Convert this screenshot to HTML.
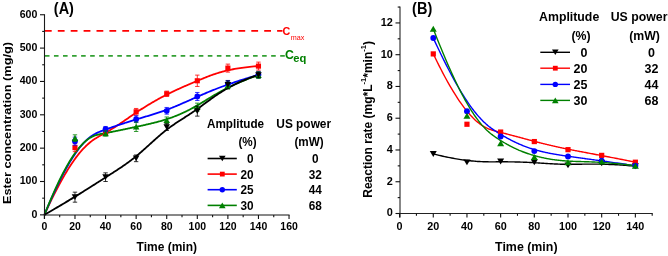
<!DOCTYPE html>
<html><head><meta charset="utf-8"><style>
html,body{margin:0;padding:0;background:#fff;width:668px;height:256px;overflow:hidden;position:relative}
</style></head><body>
<svg width="668" height="256" viewBox="0 0 668 256" style="position:absolute;left:0;top:0;filter:blur(0.35px)">
<rect width="668" height="256" fill="#fff"/>
<line x1="44.9" y1="30.8" x2="282.5" y2="30.8" stroke="#ff0000" stroke-width="1.8" stroke-dasharray="6.8,6.1"/>
<line x1="44.9" y1="55.85" x2="284.8" y2="55.85" stroke="#33a033" stroke-width="1.7" stroke-dasharray="4.6,4.45"/>
<g font-family='"Liberation Sans", sans-serif'>
<text transform="translate(282.40,34.70) scale(1,1.06)" font-weight="bold" font-size="10.8" fill="#ff0000" >C</text>
<text transform="translate(290.80,39.60) scale(1,1.0)" font-size="7.2" fill="#ff0000" >max</text>
<text transform="translate(285.00,59.20) scale(1,1.04)" font-weight="bold" font-size="12.3" fill="#008000" >C</text>
<text transform="translate(293.20,61.60) scale(1,1.0)" font-weight="bold" font-size="11.2" fill="#008000" >eq</text>
</g>
<path d="M44.40,214.85 L46.67,209.92 L48.87,205.22 L51.03,200.73 L53.13,196.45 L55.18,192.38 L57.17,188.51 L59.12,184.82 L61.02,181.33 L62.86,178.02 L64.67,174.89 L66.42,171.92 L68.14,169.12 L69.81,166.48 L71.44,163.99 L73.02,161.65 L74.57,159.45 L76.08,157.39 L77.56,155.46 L78.99,153.65 L80.40,151.96 L81.76,150.38 L83.10,148.91 L84.41,147.54 L85.68,146.27 L86.93,145.08 L88.15,143.99 L89.34,142.96 L90.51,142.01 L91.66,141.13 L92.78,140.31 L93.88,139.54 L94.96,138.83 L96.02,138.16 L97.06,137.52 L98.09,136.92 L99.10,136.34 L100.10,135.79 L101.08,135.24 L102.05,134.71 L103.01,134.18 L103.96,133.66 L104.90,133.12 L105.84,132.59 L106.76,132.05 L107.68,131.52 L108.58,130.98 L109.48,130.44 L110.37,129.89 L111.25,129.35 L112.13,128.81 L113.00,128.26 L113.86,127.71 L114.71,127.17 L115.56,126.62 L116.41,126.07 L117.24,125.52 L118.07,124.98 L118.90,124.43 L119.72,123.88 L120.53,123.33 L121.34,122.78 L122.15,122.24 L122.95,121.69 L123.74,121.14 L124.54,120.60 L125.33,120.05 L126.11,119.51 L126.90,118.97 L127.68,118.43 L128.46,117.89 L129.23,117.36 L130.00,116.82 L130.77,116.29 L131.54,115.76 L132.31,115.23 L133.08,114.71 L133.85,114.18 L134.61,113.66 L135.38,113.15 L136.14,112.63 L136.90,112.12 L137.67,111.61 L138.43,111.11 L139.20,110.61 L139.96,110.11 L140.73,109.61 L141.49,109.12 L142.26,108.63 L143.02,108.14 L143.78,107.66 L144.55,107.18 L145.31,106.70 L146.08,106.23 L146.84,105.76 L147.61,105.29 L148.37,104.83 L149.14,104.37 L149.90,103.91 L150.67,103.45 L151.43,103.00 L152.19,102.55 L152.96,102.11 L153.72,101.67 L154.49,101.23 L155.25,100.79 L156.02,100.36 L156.78,99.93 L157.55,99.50 L158.31,99.08 L159.08,98.66 L159.84,98.24 L160.60,97.82 L161.37,97.41 L162.13,97.01 L162.90,96.60 L163.66,96.20 L164.43,95.80 L165.19,95.40 L165.96,95.01 L166.72,94.62 L167.48,94.24 L168.25,93.85 L169.01,93.47 L169.78,93.10 L170.55,92.72 L171.32,92.35 L172.09,91.98 L172.86,91.61 L173.63,91.24 L174.40,90.87 L175.18,90.51 L175.96,90.15 L176.75,89.78 L177.53,89.42 L178.32,89.06 L179.12,88.70 L179.91,88.34 L180.71,87.98 L181.52,87.62 L182.33,87.27 L183.14,86.91 L183.96,86.55 L184.79,86.18 L185.62,85.82 L186.45,85.46 L187.30,85.10 L188.15,84.73 L189.00,84.36 L189.86,84.00 L190.73,83.63 L191.61,83.25 L192.49,82.88 L193.38,82.50 L194.28,82.12 L195.18,81.74 L196.10,81.36 L197.02,80.97 L197.96,80.58 L198.90,80.18 L199.85,79.78 L200.81,79.38 L201.78,78.98 L202.76,78.57 L203.76,78.16 L204.77,77.75 L205.80,77.33 L206.84,76.92 L207.90,76.50 L208.98,76.09 L210.08,75.68 L211.20,75.26 L212.35,74.85 L213.52,74.45 L214.71,74.04 L215.93,73.64 L217.18,73.24 L218.45,72.85 L219.76,72.46 L221.10,72.07 L222.46,71.70 L223.87,71.32 L225.30,70.96 L226.78,70.60 L228.29,70.25 L229.84,69.91 L231.42,69.57 L233.05,69.25 L234.72,68.94 L236.44,68.63 L238.19,68.34 L240.00,68.06 L241.84,67.79 L243.74,67.53 L245.69,67.28 L247.68,67.05 L249.73,66.83 L251.83,66.63 L253.99,66.44 L256.19,66.27 L258.46,66.11" stroke="#ff0000" stroke-width="1.8" fill="none" stroke-linejoin="round"/>
<path d="M44.40,214.85 L46.67,209.45 L48.87,204.29 L51.03,199.38 L53.13,194.70 L55.18,190.26 L57.17,186.03 L59.12,182.02 L61.02,178.22 L62.86,174.63 L64.67,171.23 L66.42,168.02 L68.14,165.00 L69.81,162.16 L71.44,159.50 L73.02,156.99 L74.57,154.65 L76.08,152.47 L77.56,150.43 L78.99,148.53 L80.40,146.77 L81.76,145.14 L83.10,143.64 L84.41,142.25 L85.68,140.97 L86.93,139.79 L88.15,138.71 L89.34,137.73 L90.51,136.83 L91.66,136.01 L92.78,135.26 L93.88,134.58 L94.96,133.97 L96.02,133.40 L97.06,132.89 L98.09,132.42 L99.10,131.98 L100.10,131.58 L101.08,131.19 L102.05,130.83 L103.01,130.47 L103.96,130.13 L104.90,129.78 L105.84,129.45 L106.76,129.11 L107.68,128.78 L108.58,128.46 L109.48,128.14 L110.37,127.82 L111.25,127.51 L112.13,127.21 L113.00,126.90 L113.86,126.60 L114.71,126.31 L115.56,126.02 L116.41,125.73 L117.24,125.44 L118.07,125.16 L118.90,124.89 L119.72,124.61 L120.53,124.34 L121.34,124.07 L122.15,123.81 L122.95,123.54 L123.74,123.28 L124.54,123.03 L125.33,122.77 L126.11,122.52 L126.90,122.27 L127.68,122.02 L128.46,121.77 L129.23,121.53 L130.00,121.29 L130.77,121.05 L131.54,120.81 L132.31,120.57 L133.08,120.34 L133.85,120.11 L134.61,119.87 L135.38,119.64 L136.14,119.41 L136.90,119.18 L137.67,118.96 L138.43,118.73 L139.20,118.50 L139.96,118.28 L140.73,118.05 L141.49,117.83 L142.26,117.60 L143.02,117.38 L143.78,117.15 L144.55,116.93 L145.31,116.70 L146.08,116.48 L146.84,116.25 L147.61,116.02 L148.37,115.80 L149.14,115.57 L149.90,115.34 L150.67,115.11 L151.43,114.88 L152.19,114.64 L152.96,114.41 L153.72,114.17 L154.49,113.93 L155.25,113.69 L156.02,113.45 L156.78,113.21 L157.55,112.96 L158.31,112.72 L159.08,112.46 L159.84,112.21 L160.60,111.96 L161.37,111.70 L162.13,111.44 L162.90,111.17 L163.66,110.90 L164.43,110.63 L165.19,110.36 L165.96,110.08 L166.72,109.80 L167.48,109.51 L168.25,109.22 L169.01,108.93 L169.78,108.63 L170.55,108.33 L171.32,108.03 L172.09,107.72 L172.86,107.41 L173.63,107.10 L174.40,106.78 L175.18,106.46 L175.96,106.13 L176.75,105.80 L177.53,105.47 L178.32,105.14 L179.12,104.80 L179.91,104.45 L180.71,104.11 L181.52,103.76 L182.33,103.41 L183.14,103.05 L183.96,102.69 L184.79,102.33 L185.62,101.96 L186.45,101.59 L187.30,101.22 L188.15,100.84 L189.00,100.47 L189.86,100.08 L190.73,99.70 L191.61,99.31 L192.49,98.92 L193.38,98.52 L194.28,98.13 L195.18,97.73 L196.10,97.32 L197.02,96.92 L197.96,96.51 L198.90,96.09 L199.85,95.68 L200.81,95.26 L201.78,94.84 L202.76,94.41 L203.76,93.99 L204.77,93.55 L205.80,93.12 L206.84,92.68 L207.90,92.24 L208.98,91.79 L210.08,91.34 L211.20,90.88 L212.35,90.42 L213.52,89.95 L214.71,89.48 L215.93,89.00 L217.18,88.51 L218.45,88.03 L219.76,87.53 L221.10,87.03 L222.46,86.52 L223.87,86.01 L225.30,85.49 L226.78,84.96 L228.29,84.43 L229.84,83.88 L231.42,83.34 L233.05,82.78 L234.72,82.21 L236.44,81.64 L238.19,81.06 L240.00,80.47 L241.84,79.88 L243.74,79.27 L245.69,78.66 L247.68,78.04 L249.73,77.40 L251.83,76.76 L253.99,76.11 L256.19,75.45 L258.46,74.78" stroke="#0000ff" stroke-width="1.8" fill="none" stroke-linejoin="round"/>
<path d="M44.40,214.85 L46.67,209.24 L48.87,203.89 L51.03,198.82 L53.13,194.00 L55.18,189.43 L57.17,185.10 L59.12,181.01 L61.02,177.16 L62.86,173.52 L64.67,170.10 L66.42,166.90 L68.14,163.89 L69.81,161.08 L71.44,158.45 L73.02,156.01 L74.57,153.75 L76.08,151.65 L77.56,149.71 L78.99,147.92 L80.40,146.28 L81.76,144.78 L83.10,143.41 L84.41,142.17 L85.68,141.05 L86.93,140.04 L88.15,139.13 L89.34,138.32 L90.51,137.60 L91.66,136.97 L92.78,136.41 L93.88,135.92 L94.96,135.50 L96.02,135.13 L97.06,134.81 L98.09,134.53 L99.10,134.29 L100.10,134.08 L101.08,133.88 L102.05,133.70 L103.01,133.53 L103.96,133.36 L104.90,133.19 L105.84,133.02 L106.76,132.85 L107.68,132.68 L108.58,132.51 L109.48,132.34 L110.37,132.17 L111.25,132.00 L112.13,131.83 L113.00,131.66 L113.86,131.49 L114.71,131.33 L115.56,131.16 L116.41,130.99 L117.24,130.82 L118.07,130.65 L118.90,130.49 L119.72,130.32 L120.53,130.15 L121.34,129.98 L122.15,129.82 L122.95,129.65 L123.74,129.48 L124.54,129.32 L125.33,129.15 L126.11,128.98 L126.90,128.82 L127.68,128.65 L128.46,128.49 L129.23,128.32 L130.00,128.15 L130.77,127.99 L131.54,127.82 L132.31,127.66 L133.08,127.49 L133.85,127.33 L134.61,127.16 L135.38,127.00 L136.14,126.83 L136.90,126.67 L137.67,126.50 L138.43,126.34 L139.20,126.17 L139.96,126.01 L140.73,125.84 L141.49,125.68 L142.26,125.51 L143.02,125.34 L143.78,125.17 L144.55,125.01 L145.31,124.83 L146.08,124.66 L146.84,124.49 L147.61,124.32 L148.37,124.14 L149.14,123.96 L149.90,123.78 L150.67,123.60 L151.43,123.42 L152.19,123.23 L152.96,123.05 L153.72,122.86 L154.49,122.67 L155.25,122.47 L156.02,122.27 L156.78,122.08 L157.55,121.87 L158.31,121.67 L159.08,121.46 L159.84,121.25 L160.60,121.03 L161.37,120.82 L162.13,120.60 L162.90,120.37 L163.66,120.14 L164.43,119.91 L165.19,119.67 L165.96,119.43 L166.72,119.19 L167.48,118.94 L168.25,118.69 L169.01,118.43 L169.78,118.17 L170.55,117.91 L171.32,117.63 L172.09,117.36 L172.86,117.07 L173.63,116.78 L174.40,116.49 L175.18,116.19 L175.96,115.88 L176.75,115.57 L177.53,115.25 L178.32,114.92 L179.12,114.59 L179.91,114.25 L180.71,113.90 L181.52,113.54 L182.33,113.17 L183.14,112.80 L183.96,112.42 L184.79,112.03 L185.62,111.63 L186.45,111.22 L187.30,110.81 L188.15,110.38 L189.00,109.95 L189.86,109.50 L190.73,109.05 L191.61,108.58 L192.49,108.10 L193.38,107.62 L194.28,107.12 L195.18,106.61 L196.10,106.10 L197.02,105.57 L197.96,105.02 L198.90,104.47 L199.85,103.91 L200.81,103.33 L201.78,102.74 L202.76,102.14 L203.76,101.53 L204.77,100.91 L205.80,100.27 L206.84,99.63 L207.90,98.98 L208.98,98.32 L210.08,97.65 L211.20,96.97 L212.35,96.28 L213.52,95.59 L214.71,94.88 L215.93,94.18 L217.18,93.46 L218.45,92.74 L219.76,92.01 L221.10,91.27 L222.46,90.53 L223.87,89.79 L225.30,89.04 L226.78,88.28 L228.29,87.52 L229.84,86.76 L231.42,85.99 L233.05,85.22 L234.72,84.45 L236.44,83.68 L238.19,82.90 L240.00,82.13 L241.84,81.35 L243.74,80.57 L245.69,79.79 L247.68,79.01 L249.73,78.23 L251.83,77.45 L253.99,76.67 L256.19,75.89 L258.46,75.11" stroke="#008000" stroke-width="1.8" fill="none" stroke-linejoin="round"/>
<path d="M44.40,214.85 L46.67,213.54 L48.87,212.26 L51.03,211.00 L53.13,209.77 L55.18,208.57 L57.17,207.39 L59.12,206.24 L61.02,205.12 L62.86,204.02 L64.67,202.94 L66.42,201.89 L68.14,200.86 L69.81,199.85 L71.44,198.86 L73.02,197.89 L74.57,196.95 L76.08,196.02 L77.56,195.12 L78.99,194.23 L80.40,193.36 L81.76,192.51 L83.10,191.68 L84.41,190.86 L85.68,190.06 L86.93,189.28 L88.15,188.51 L89.34,187.76 L90.51,187.01 L91.66,186.29 L92.78,185.57 L93.88,184.87 L94.96,184.18 L96.02,183.50 L97.06,182.84 L98.09,182.18 L99.10,181.53 L100.10,180.89 L101.08,180.26 L102.05,179.64 L103.01,179.03 L103.96,178.42 L104.90,177.82 L105.84,177.22 L106.76,176.64 L107.68,176.05 L108.58,175.47 L109.48,174.90 L110.37,174.33 L111.25,173.77 L112.13,173.21 L113.00,172.65 L113.86,172.09 L114.71,171.54 L115.56,170.99 L116.41,170.44 L117.24,169.90 L118.07,169.35 L118.90,168.81 L119.72,168.26 L120.53,167.72 L121.34,167.17 L122.15,166.63 L122.95,166.08 L123.74,165.53 L124.54,164.98 L125.33,164.43 L126.11,163.88 L126.90,163.32 L127.68,162.76 L128.46,162.19 L129.23,161.63 L130.00,161.05 L130.77,160.47 L131.54,159.89 L132.31,159.30 L133.08,158.71 L133.85,158.11 L134.61,157.50 L135.38,156.89 L136.14,156.27 L136.90,155.64 L137.67,155.00 L138.43,154.36 L139.20,153.71 L139.96,153.05 L140.73,152.39 L141.49,151.72 L142.26,151.05 L143.02,150.38 L143.78,149.70 L144.55,149.02 L145.31,148.33 L146.08,147.64 L146.84,146.95 L147.61,146.26 L148.37,145.57 L149.14,144.87 L149.90,144.18 L150.67,143.48 L151.43,142.79 L152.19,142.10 L152.96,141.40 L153.72,140.71 L154.49,140.03 L155.25,139.34 L156.02,138.66 L156.78,137.98 L157.55,137.31 L158.31,136.64 L159.08,135.97 L159.84,135.31 L160.60,134.65 L161.37,134.01 L162.13,133.36 L162.90,132.73 L163.66,132.10 L164.43,131.48 L165.19,130.87 L165.96,130.26 L166.72,129.67 L167.48,129.08 L168.25,128.51 L169.01,127.94 L169.78,127.38 L170.55,126.83 L171.32,126.28 L172.09,125.74 L172.86,125.20 L173.63,124.67 L174.40,124.14 L175.18,123.62 L175.96,123.10 L176.75,122.58 L177.53,122.06 L178.32,121.55 L179.12,121.03 L179.91,120.52 L180.71,120.00 L181.52,119.48 L182.33,118.96 L183.14,118.44 L183.96,117.91 L184.79,117.38 L185.62,116.85 L186.45,116.31 L187.30,115.77 L188.15,115.22 L189.00,114.66 L189.86,114.09 L190.73,113.52 L191.61,112.94 L192.49,112.35 L193.38,111.75 L194.28,111.13 L195.18,110.51 L196.10,109.88 L197.02,109.23 L197.96,108.57 L198.90,107.90 L199.85,107.21 L200.81,106.51 L201.78,105.80 L202.76,105.07 L203.76,104.33 L204.77,103.57 L205.80,102.81 L206.84,102.03 L207.90,101.25 L208.98,100.45 L210.08,99.65 L211.20,98.84 L212.35,98.02 L213.52,97.20 L214.71,96.37 L215.93,95.53 L217.18,94.69 L218.45,93.85 L219.76,93.00 L221.10,92.15 L222.46,91.30 L223.87,90.45 L225.30,89.59 L226.78,88.74 L228.29,87.89 L229.84,87.04 L231.42,86.19 L233.05,85.35 L234.72,84.51 L236.44,83.67 L238.19,82.84 L240.00,82.01 L241.84,81.19 L243.74,80.38 L245.69,79.57 L247.68,78.78 L249.73,77.99 L251.83,77.21 L253.99,76.45 L256.19,75.69 L258.46,74.95" stroke="#000" stroke-width="1.8" fill="none" stroke-linejoin="round"/>
<path d="M74.98,143.65 L74.98,151.65 M72.78,143.65 L77.18,143.65 M72.78,151.65 L77.18,151.65" stroke="#ff0000" stroke-width="0.8" fill="none"/>
<rect x="72.42" y="145.09" width="5.12" height="5.12" fill="#ff0000"/>
<path d="M105.56,129.81 L105.56,135.14 M103.36,129.81 L107.76,129.81 M103.36,135.14 L107.76,135.14" stroke="#ff0000" stroke-width="0.8" fill="none"/>
<rect x="103.00" y="129.92" width="5.12" height="5.12" fill="#ff0000"/>
<path d="M136.14,108.46 L136.14,115.13 M133.94,108.46 L138.34,108.46 M133.94,115.13 L138.34,115.13" stroke="#ff0000" stroke-width="0.8" fill="none"/>
<rect x="133.58" y="109.24" width="5.12" height="5.12" fill="#ff0000"/>
<path d="M166.72,91.12 L166.72,96.46 M164.52,91.12 L168.92,91.12 M164.52,96.46 L168.92,96.46" stroke="#ff0000" stroke-width="0.8" fill="none"/>
<rect x="164.16" y="91.23" width="5.12" height="5.12" fill="#ff0000"/>
<path d="M197.30,75.11 L197.30,86.45 M195.10,75.11 L199.50,75.11 M195.10,86.45 L199.50,86.45" stroke="#ff0000" stroke-width="0.8" fill="none"/>
<rect x="194.74" y="78.22" width="5.12" height="5.12" fill="#ff0000"/>
<path d="M227.88,64.11 L227.88,72.11 M225.68,64.11 L230.08,64.11 M225.68,72.11 L230.08,72.11" stroke="#ff0000" stroke-width="0.8" fill="none"/>
<rect x="225.32" y="65.55" width="5.12" height="5.12" fill="#ff0000"/>
<path d="M258.46,62.11 L258.46,70.11 M256.26,62.11 L260.66,62.11 M256.26,70.11 L260.66,70.11" stroke="#ff0000" stroke-width="0.8" fill="none"/>
<rect x="255.90" y="63.55" width="5.12" height="5.12" fill="#ff0000"/>
<path d="M74.98,137.14 L74.98,145.15 M72.78,137.14 L77.18,137.14 M72.78,145.15 L77.18,145.15" stroke="#0000ff" stroke-width="0.8" fill="none"/>
<circle cx="74.98" cy="141.15" r="2.88" fill="#0000ff"/>
<path d="M105.56,126.47 L105.56,131.81 M103.36,126.47 L107.76,126.47 M103.36,131.81 L107.76,131.81" stroke="#0000ff" stroke-width="0.8" fill="none"/>
<circle cx="105.56" cy="129.14" r="2.88" fill="#0000ff"/>
<path d="M136.14,115.80 L136.14,122.47 M133.94,115.80 L138.34,115.80 M133.94,122.47 L138.34,122.47" stroke="#0000ff" stroke-width="0.8" fill="none"/>
<circle cx="136.14" cy="119.14" r="2.88" fill="#0000ff"/>
<path d="M166.72,107.46 L166.72,114.13 M164.52,107.46 L168.92,107.46 M164.52,114.13 L168.92,114.13" stroke="#0000ff" stroke-width="0.8" fill="none"/>
<circle cx="166.72" cy="110.80" r="2.88" fill="#0000ff"/>
<path d="M197.30,92.46 L197.30,100.46 M195.10,92.46 L199.50,92.46 M195.10,100.46 L199.50,100.46" stroke="#0000ff" stroke-width="0.8" fill="none"/>
<circle cx="197.30" cy="96.46" r="2.88" fill="#0000ff"/>
<path d="M227.88,80.45 L227.88,87.12 M225.68,80.45 L230.08,80.45 M225.68,87.12 L230.08,87.12" stroke="#0000ff" stroke-width="0.8" fill="none"/>
<circle cx="227.88" cy="83.78" r="2.88" fill="#0000ff"/>
<path d="M258.46,71.44 L258.46,78.11 M256.26,71.44 L260.66,71.44 M256.26,78.11 L260.66,78.11" stroke="#0000ff" stroke-width="0.8" fill="none"/>
<circle cx="258.46" cy="74.78" r="2.88" fill="#0000ff"/>
<path d="M74.98,134.81 L74.98,141.48 M72.78,134.81 L77.18,134.81 M72.78,141.48 L77.18,141.48" stroke="#008000" stroke-width="0.8" fill="none"/>
<path d="M71.68,140.95 L78.28,140.95 L74.98,135.34 Z" fill="#008000"/>
<path d="M105.56,130.81 L105.56,136.14 M103.36,130.81 L107.76,130.81 M103.36,136.14 L107.76,136.14" stroke="#008000" stroke-width="0.8" fill="none"/>
<path d="M102.26,136.28 L108.86,136.28 L105.56,130.67 Z" fill="#008000"/>
<path d="M136.14,122.14 L136.14,131.47 M133.94,122.14 L138.34,122.14 M133.94,131.47 L138.34,131.47" stroke="#008000" stroke-width="0.8" fill="none"/>
<path d="M132.84,129.61 L139.44,129.61 L136.14,124.00 Z" fill="#008000"/>
<path d="M166.72,116.97 L166.72,123.64 M164.52,116.97 L168.92,116.97 M164.52,123.64 L168.92,123.64" stroke="#008000" stroke-width="0.8" fill="none"/>
<path d="M163.42,123.11 L170.02,123.11 L166.72,117.50 Z" fill="#008000"/>
<path d="M197.30,103.13 L197.30,111.13 M195.10,103.13 L199.50,103.13 M195.10,111.13 L199.50,111.13" stroke="#008000" stroke-width="0.8" fill="none"/>
<path d="M194.00,109.93 L200.60,109.93 L197.30,104.32 Z" fill="#008000"/>
<path d="M227.88,82.12 L227.88,88.79 M225.68,82.12 L230.08,82.12 M225.68,88.79 L230.08,88.79" stroke="#008000" stroke-width="0.8" fill="none"/>
<path d="M224.58,88.26 L231.18,88.26 L227.88,82.65 Z" fill="#008000"/>
<path d="M258.46,71.78 L258.46,78.45 M256.26,71.78 L260.66,71.78 M256.26,78.45 L260.66,78.45" stroke="#008000" stroke-width="0.8" fill="none"/>
<path d="M255.16,77.92 L261.76,77.92 L258.46,72.31 Z" fill="#008000"/>
<path d="M74.98,192.17 L74.98,202.18 M72.78,192.17 L77.18,192.17 M72.78,202.18 L77.18,202.18" stroke="#000" stroke-width="0.8" fill="none"/>
<path d="M71.68,194.37 L78.28,194.37 L74.98,199.98 Z" fill="#000"/>
<path d="M105.56,172.83 L105.56,181.50 M103.36,172.83 L107.76,172.83 M103.36,181.50 L107.76,181.50" stroke="#000" stroke-width="0.8" fill="none"/>
<path d="M102.26,174.36 L108.86,174.36 L105.56,179.97 Z" fill="#000"/>
<path d="M136.14,154.99 L136.14,161.66 M133.94,154.99 L138.34,154.99 M133.94,161.66 L138.34,161.66" stroke="#000" stroke-width="0.8" fill="none"/>
<path d="M132.84,155.52 L139.44,155.52 L136.14,161.13 Z" fill="#000"/>
<path d="M166.72,123.80 L166.72,130.47 M164.52,123.80 L168.92,123.80 M164.52,130.47 L168.92,130.47" stroke="#000" stroke-width="0.8" fill="none"/>
<path d="M163.42,124.33 L170.02,124.33 L166.72,129.94 Z" fill="#000"/>
<path d="M197.30,106.13 L197.30,116.13 M195.10,106.13 L199.50,106.13 M195.10,116.13 L199.50,116.13" stroke="#000" stroke-width="0.8" fill="none"/>
<path d="M194.00,108.33 L200.60,108.33 L197.30,113.94 Z" fill="#000"/>
<path d="M227.88,80.78 L227.88,88.79 M225.68,80.78 L230.08,80.78 M225.68,88.79 L230.08,88.79" stroke="#000" stroke-width="0.8" fill="none"/>
<path d="M224.58,81.98 L231.18,81.98 L227.88,87.59 Z" fill="#000"/>
<path d="M258.46,72.28 L258.46,77.61 M256.26,72.28 L260.66,72.28 M256.26,77.61 L260.66,77.61" stroke="#000" stroke-width="0.8" fill="none"/>
<path d="M255.16,72.14 L261.76,72.14 L258.46,77.75 Z" fill="#000"/>
<line x1="44.5" y1="14.25" x2="44.5" y2="219.00" stroke="#1a1a1a" stroke-width="1.1"/>
<line x1="44.5" y1="215.0" x2="289.54" y2="215.0" stroke="#111" stroke-width="1"/>
<g stroke="#111" stroke-width="1.1" fill="none">
<line x1="40.00" y1="214.85" x2="44.50" y2="214.85"/>
<line x1="42.20" y1="198.17" x2="44.50" y2="198.17"/>
<line x1="40.00" y1="181.50" x2="44.50" y2="181.50"/>
<line x1="42.20" y1="164.82" x2="44.50" y2="164.82"/>
<line x1="40.00" y1="148.15" x2="44.50" y2="148.15"/>
<line x1="42.20" y1="131.47" x2="44.50" y2="131.47"/>
<line x1="40.00" y1="114.80" x2="44.50" y2="114.80"/>
<line x1="42.20" y1="98.12" x2="44.50" y2="98.12"/>
<line x1="40.00" y1="81.45" x2="44.50" y2="81.45"/>
<line x1="42.20" y1="64.77" x2="44.50" y2="64.77"/>
<line x1="40.00" y1="48.10" x2="44.50" y2="48.10"/>
<line x1="42.20" y1="31.42" x2="44.50" y2="31.42"/>
<line x1="40.00" y1="14.75" x2="44.50" y2="14.75"/>
<line x1="44.40" y1="215.00" x2="44.40" y2="219.00"/>
<line x1="59.69" y1="215.00" x2="59.69" y2="217.30"/>
<line x1="74.98" y1="215.00" x2="74.98" y2="219.00"/>
<line x1="90.27" y1="215.00" x2="90.27" y2="217.30"/>
<line x1="105.56" y1="215.00" x2="105.56" y2="219.00"/>
<line x1="120.85" y1="215.00" x2="120.85" y2="217.30"/>
<line x1="136.14" y1="215.00" x2="136.14" y2="219.00"/>
<line x1="151.43" y1="215.00" x2="151.43" y2="217.30"/>
<line x1="166.72" y1="215.00" x2="166.72" y2="219.00"/>
<line x1="182.01" y1="215.00" x2="182.01" y2="217.30"/>
<line x1="197.30" y1="215.00" x2="197.30" y2="219.00"/>
<line x1="212.59" y1="215.00" x2="212.59" y2="217.30"/>
<line x1="227.88" y1="215.00" x2="227.88" y2="219.00"/>
<line x1="243.17" y1="215.00" x2="243.17" y2="217.30"/>
<line x1="258.46" y1="215.00" x2="258.46" y2="219.00"/>
<line x1="273.75" y1="215.00" x2="273.75" y2="217.30"/>
<line x1="289.04" y1="215.00" x2="289.04" y2="219.00"/>
</g>
<g font-family='"Liberation Sans", sans-serif'>
<text transform="translate(37.30,217.65) scale(1,1.06)" text-anchor="end" font-weight="bold" font-size="10.6" fill="#000" >0</text>
<text transform="translate(37.30,184.30) scale(1,1.06)" text-anchor="end" font-weight="bold" font-size="10.6" fill="#000" >100</text>
<text transform="translate(37.30,150.95) scale(1,1.06)" text-anchor="end" font-weight="bold" font-size="10.6" fill="#000" >200</text>
<text transform="translate(37.30,117.60) scale(1,1.06)" text-anchor="end" font-weight="bold" font-size="10.6" fill="#000" >300</text>
<text transform="translate(37.30,84.25) scale(1,1.06)" text-anchor="end" font-weight="bold" font-size="10.6" fill="#000" >400</text>
<text transform="translate(37.30,50.90) scale(1,1.06)" text-anchor="end" font-weight="bold" font-size="10.6" fill="#000" >500</text>
<text transform="translate(37.30,17.55) scale(1,1.06)" text-anchor="end" font-weight="bold" font-size="10.6" fill="#000" >600</text>
<text transform="translate(44.40,229.70) scale(1,1.06)" text-anchor="middle" font-weight="bold" font-size="10.5" fill="#000" >0</text>
<text transform="translate(74.98,229.70) scale(1,1.06)" text-anchor="middle" font-weight="bold" font-size="10.5" fill="#000" >20</text>
<text transform="translate(105.56,229.70) scale(1,1.06)" text-anchor="middle" font-weight="bold" font-size="10.5" fill="#000" >40</text>
<text transform="translate(136.14,229.70) scale(1,1.06)" text-anchor="middle" font-weight="bold" font-size="10.5" fill="#000" >60</text>
<text transform="translate(166.72,229.70) scale(1,1.06)" text-anchor="middle" font-weight="bold" font-size="10.5" fill="#000" >80</text>
<text transform="translate(197.30,229.70) scale(1,1.06)" text-anchor="middle" font-weight="bold" font-size="10.5" fill="#000" >100</text>
<text transform="translate(227.88,229.70) scale(1,1.06)" text-anchor="middle" font-weight="bold" font-size="10.5" fill="#000" >120</text>
<text transform="translate(258.46,229.70) scale(1,1.06)" text-anchor="middle" font-weight="bold" font-size="10.5" fill="#000" >140</text>
<text transform="translate(289.04,229.70) scale(1,1.06)" text-anchor="middle" font-weight="bold" font-size="10.5" fill="#000" >160</text>
<text transform="translate(166.80,251.30) scale(1,1.03)" text-anchor="middle" font-weight="bold" font-size="12" fill="#000" >Time (min)</text>
<text transform="translate(11.0,123.0) rotate(-90) scale(1.08,1)" text-anchor="middle" font-weight="bold" font-size="11.8">Ester concentration (mg/g)</text>
<text transform="translate(53.80,13.60) scale(1,1.09)" font-weight="bold" font-size="14.5" fill="#000" >(A)</text>
</g>
<g font-family='"Liberation Sans", sans-serif'>
<text transform="translate(207.00,127.70) scale(1,1.03)" font-weight="bold" font-size="11.7" fill="#000" >Amplitude</text>
<text transform="translate(276.30,127.70) scale(1,1.03)" font-weight="bold" font-size="11.9" fill="#000" >US power</text>
<text transform="translate(247.50,146.00) scale(1,1.03)" text-anchor="middle" font-weight="bold" font-size="11.7" fill="#000" >(%)</text>
<text transform="translate(309.00,146.00) scale(1,1.03)" text-anchor="middle" font-weight="bold" font-size="11.7" fill="#000" >(mW)</text>
<line x1="207.6" y1="158.5" x2="236.8" y2="158.5" stroke="#000" stroke-width="1.6"/>
<path d="M219.00,155.69 L225.60,155.69 L222.30,161.31 Z" fill="#000"/>
<text transform="translate(253.60,163.00) scale(1,1.05)" text-anchor="end" font-weight="bold" font-size="11.8" fill="#000" >0</text>
<text transform="translate(315.30,163.00) scale(1,1.05)" text-anchor="middle" font-weight="bold" font-size="11.8" fill="#000" >0</text>
<line x1="207.6" y1="174.1" x2="236.8" y2="174.1" stroke="#ff0000" stroke-width="1.6"/>
<rect x="219.90" y="171.70" width="4.80" height="4.80" fill="#ff0000"/>
<text transform="translate(253.60,178.60) scale(1,1.05)" text-anchor="end" font-weight="bold" font-size="11.8" fill="#000" >20</text>
<text transform="translate(315.30,178.60) scale(1,1.05)" text-anchor="middle" font-weight="bold" font-size="11.8" fill="#000" >32</text>
<line x1="207.6" y1="189.7" x2="236.8" y2="189.7" stroke="#0000ff" stroke-width="1.6"/>
<circle cx="222.30" cy="189.70" r="2.70" fill="#0000ff"/>
<text transform="translate(253.60,194.20) scale(1,1.05)" text-anchor="end" font-weight="bold" font-size="11.8" fill="#000" >25</text>
<text transform="translate(315.30,194.20) scale(1,1.05)" text-anchor="middle" font-weight="bold" font-size="11.8" fill="#000" >44</text>
<line x1="207.6" y1="205.4" x2="236.8" y2="205.4" stroke="#008000" stroke-width="1.6"/>
<path d="M219.00,208.21 L225.60,208.21 L222.30,202.59 Z" fill="#008000"/>
<text transform="translate(253.60,209.90) scale(1,1.05)" text-anchor="end" font-weight="bold" font-size="11.8" fill="#000" >30</text>
<text transform="translate(315.30,209.90) scale(1,1.05)" text-anchor="middle" font-weight="bold" font-size="11.8" fill="#000" >68</text>
</g>
<path d="M433.28,153.95 L435.28,154.44 L437.24,154.92 L439.16,155.37 L441.05,155.80 L442.89,156.22 L444.70,156.61 L446.47,156.99 L448.21,157.34 L449.91,157.68 L451.58,158.01 L453.21,158.31 L454.81,158.60 L456.38,158.87 L457.92,159.13 L459.42,159.37 L460.90,159.60 L462.35,159.82 L463.76,160.02 L465.15,160.20 L466.51,160.38 L467.84,160.54 L469.15,160.69 L470.43,160.82 L471.69,160.95 L472.92,161.07 L474.13,161.17 L475.32,161.27 L476.48,161.35 L477.63,161.43 L478.75,161.50 L479.85,161.56 L480.93,161.62 L481.99,161.66 L483.04,161.70 L484.07,161.74 L485.08,161.77 L486.07,161.79 L487.05,161.81 L488.01,161.82 L488.96,161.83 L489.90,161.84 L490.82,161.84 L491.74,161.84 L492.64,161.84 L493.53,161.84 L494.40,161.83 L495.27,161.83 L496.13,161.82 L496.99,161.82 L497.83,161.81 L498.67,161.81 L499.50,161.80 L500.33,161.80 L501.15,161.80 L501.96,161.80 L502.77,161.80 L503.57,161.80 L504.37,161.80 L505.15,161.81 L505.94,161.81 L506.72,161.82 L507.49,161.82 L508.26,161.83 L509.02,161.84 L509.78,161.84 L510.54,161.85 L511.28,161.87 L512.03,161.88 L512.77,161.89 L513.51,161.90 L514.24,161.92 L514.97,161.93 L515.69,161.95 L516.41,161.96 L517.13,161.98 L517.84,162.00 L518.55,162.02 L519.26,162.04 L519.97,162.06 L520.67,162.09 L521.37,162.11 L522.06,162.13 L522.76,162.16 L523.45,162.18 L524.14,162.21 L524.83,162.24 L525.51,162.27 L526.20,162.29 L526.88,162.32 L527.56,162.36 L528.24,162.39 L528.92,162.42 L529.60,162.45 L530.27,162.49 L530.95,162.52 L531.62,162.56 L532.30,162.60 L532.97,162.63 L533.65,162.67 L534.32,162.71 L534.99,162.75 L535.67,162.79 L536.34,162.83 L537.02,162.88 L537.69,162.92 L538.37,162.96 L539.04,163.00 L539.72,163.05 L540.40,163.09 L541.08,163.14 L541.76,163.18 L542.44,163.23 L543.13,163.27 L543.81,163.32 L544.50,163.36 L545.19,163.41 L545.88,163.45 L546.58,163.49 L547.27,163.54 L547.97,163.58 L548.67,163.62 L549.38,163.66 L550.09,163.71 L550.80,163.75 L551.51,163.79 L552.23,163.82 L552.95,163.86 L553.67,163.90 L554.40,163.94 L555.13,163.97 L555.87,164.00 L556.61,164.04 L557.36,164.07 L558.10,164.10 L558.86,164.12 L559.62,164.15 L560.38,164.18 L561.15,164.20 L561.92,164.22 L562.70,164.24 L563.49,164.26 L564.27,164.27 L565.07,164.29 L565.87,164.30 L566.68,164.31 L567.49,164.32 L568.31,164.32 L569.14,164.33 L569.97,164.33 L570.81,164.32 L571.65,164.32 L572.51,164.31 L573.37,164.31 L574.24,164.29 L575.11,164.28 L576.00,164.27 L576.90,164.25 L577.82,164.24 L578.74,164.22 L579.68,164.21 L580.63,164.19 L581.59,164.18 L582.57,164.16 L583.56,164.15 L584.57,164.13 L585.60,164.12 L586.65,164.11 L587.71,164.10 L588.79,164.09 L589.89,164.09 L591.01,164.08 L592.16,164.08 L593.32,164.08 L594.51,164.09 L595.72,164.10 L596.95,164.11 L598.21,164.13 L599.49,164.15 L600.80,164.18 L602.13,164.21 L603.49,164.24 L604.88,164.28 L606.29,164.33 L607.74,164.38 L609.22,164.44 L610.72,164.50 L612.26,164.57 L613.83,164.65 L615.43,164.73 L617.06,164.82 L618.73,164.92 L620.43,165.03 L622.17,165.14 L623.94,165.26 L625.75,165.39 L627.59,165.53 L629.48,165.68 L631.40,165.84 L633.36,166.00 L635.36,166.18" stroke="#000" stroke-width="1.4" fill="none"/>
<path d="M433.28,53.91 L435.28,58.05 L437.24,62.03 L439.16,65.87 L441.05,69.55 L442.89,73.08 L444.70,76.47 L446.47,79.73 L448.21,82.84 L449.91,85.82 L451.58,88.67 L453.21,91.39 L454.81,93.99 L456.38,96.46 L457.92,98.82 L459.42,101.06 L460.90,103.19 L462.35,105.21 L463.76,107.13 L465.15,108.94 L466.51,110.65 L467.84,112.27 L469.15,113.80 L470.43,115.23 L471.69,116.58 L472.92,117.85 L474.13,119.03 L475.32,120.14 L476.48,121.18 L477.63,122.14 L478.75,123.04 L479.85,123.87 L480.93,124.64 L481.99,125.35 L483.04,126.01 L484.07,126.62 L485.08,127.18 L486.07,127.69 L487.05,128.16 L488.01,128.59 L488.96,128.99 L489.90,129.35 L490.82,129.68 L491.74,129.99 L492.64,130.28 L493.53,130.54 L494.40,130.79 L495.27,131.02 L496.13,131.25 L496.99,131.47 L497.83,131.68 L498.67,131.89 L499.50,132.10 L500.33,132.31 L501.15,132.52 L501.96,132.73 L502.77,132.94 L503.57,133.14 L504.37,133.35 L505.15,133.55 L505.94,133.76 L506.72,133.96 L507.49,134.16 L508.26,134.36 L509.02,134.56 L509.78,134.77 L510.54,134.96 L511.28,135.16 L512.03,135.36 L512.77,135.56 L513.51,135.75 L514.24,135.95 L514.97,136.14 L515.69,136.34 L516.41,136.53 L517.13,136.73 L517.84,136.92 L518.55,137.11 L519.26,137.30 L519.97,137.49 L520.67,137.68 L521.37,137.87 L522.06,138.05 L522.76,138.24 L523.45,138.43 L524.14,138.61 L524.83,138.80 L525.51,138.98 L526.20,139.17 L526.88,139.35 L527.56,139.53 L528.24,139.72 L528.92,139.90 L529.60,140.08 L530.27,140.26 L530.95,140.44 L531.62,140.62 L532.30,140.79 L532.97,140.97 L533.65,141.15 L534.32,141.33 L534.99,141.50 L535.67,141.68 L536.34,141.85 L537.02,142.03 L537.69,142.20 L538.37,142.37 L539.04,142.55 L539.72,142.72 L540.40,142.89 L541.08,143.06 L541.76,143.23 L542.44,143.40 L543.13,143.57 L543.81,143.74 L544.50,143.91 L545.19,144.08 L545.88,144.25 L546.58,144.42 L547.27,144.59 L547.97,144.76 L548.67,144.92 L549.38,145.09 L550.09,145.26 L550.80,145.43 L551.51,145.59 L552.23,145.76 L552.95,145.93 L553.67,146.09 L554.40,146.26 L555.13,146.42 L555.87,146.59 L556.61,146.76 L557.36,146.92 L558.10,147.09 L558.86,147.25 L559.62,147.42 L560.38,147.58 L561.15,147.75 L561.92,147.92 L562.70,148.08 L563.49,148.25 L564.27,148.41 L565.07,148.58 L565.87,148.74 L566.68,148.91 L567.49,149.08 L568.31,149.24 L569.14,149.41 L569.97,149.58 L570.81,149.74 L571.65,149.91 L572.51,150.08 L573.37,150.24 L574.24,150.41 L575.11,150.58 L576.00,150.75 L576.90,150.92 L577.82,151.10 L578.74,151.27 L579.68,151.45 L580.63,151.63 L581.59,151.81 L582.57,151.99 L583.56,152.18 L584.57,152.37 L585.60,152.56 L586.65,152.76 L587.71,152.96 L588.79,153.16 L589.89,153.36 L591.01,153.57 L592.16,153.79 L593.32,154.01 L594.51,154.23 L595.72,154.46 L596.95,154.69 L598.21,154.93 L599.49,155.17 L600.80,155.42 L602.13,155.67 L603.49,155.93 L604.88,156.19 L606.29,156.47 L607.74,156.74 L609.22,157.03 L610.72,157.32 L612.26,157.62 L613.83,157.92 L615.43,158.24 L617.06,158.56 L618.73,158.88 L620.43,159.22 L622.17,159.56 L623.94,159.91 L625.75,160.27 L627.59,160.64 L629.48,161.02 L631.40,161.41 L633.36,161.80 L635.36,162.21" stroke="#ff0000" stroke-width="1.4" fill="none"/>
<path d="M433.28,38.03 L435.28,42.35 L437.24,46.52 L439.16,50.56 L441.05,54.46 L442.89,58.23 L444.70,61.86 L446.47,65.37 L448.21,68.74 L449.91,72.00 L451.58,75.13 L453.21,78.15 L454.81,81.05 L456.38,83.84 L457.92,86.52 L459.42,89.09 L460.90,91.55 L462.35,93.92 L463.76,96.18 L465.15,98.35 L466.51,100.42 L467.84,102.41 L469.15,104.30 L470.43,106.11 L471.69,107.84 L472.92,109.49 L474.13,111.06 L475.32,112.55 L476.48,113.98 L477.63,115.33 L478.75,116.62 L479.85,117.84 L480.93,119.00 L481.99,120.11 L483.04,121.16 L484.07,122.15 L485.08,123.10 L486.07,124.00 L487.05,124.85 L488.01,125.66 L488.96,126.44 L489.90,127.17 L490.82,127.88 L491.74,128.55 L492.64,129.19 L493.53,129.81 L494.40,130.40 L495.27,130.98 L496.13,131.53 L496.99,132.07 L497.83,132.60 L498.67,133.12 L499.50,133.64 L500.33,134.14 L501.15,134.63 L501.96,135.11 L502.77,135.59 L503.57,136.06 L504.37,136.52 L505.15,136.96 L505.94,137.41 L506.72,137.84 L507.49,138.27 L508.26,138.68 L509.02,139.09 L509.78,139.49 L510.54,139.89 L511.28,140.27 L512.03,140.65 L512.77,141.03 L513.51,141.39 L514.24,141.75 L514.97,142.10 L515.69,142.44 L516.41,142.78 L517.13,143.11 L517.84,143.43 L518.55,143.75 L519.26,144.06 L519.97,144.37 L520.67,144.67 L521.37,144.96 L522.06,145.25 L522.76,145.53 L523.45,145.81 L524.14,146.08 L524.83,146.34 L525.51,146.60 L526.20,146.86 L526.88,147.11 L527.56,147.35 L528.24,147.59 L528.92,147.83 L529.60,148.06 L530.27,148.29 L530.95,148.51 L531.62,148.73 L532.30,148.94 L532.97,149.15 L533.65,149.35 L534.32,149.56 L534.99,149.75 L535.67,149.95 L536.34,150.14 L537.02,150.33 L537.69,150.51 L538.37,150.69 L539.04,150.87 L539.72,151.05 L540.40,151.22 L541.08,151.39 L541.76,151.55 L542.44,151.72 L543.13,151.88 L543.81,152.03 L544.50,152.19 L545.19,152.34 L545.88,152.49 L546.58,152.64 L547.27,152.79 L547.97,152.93 L548.67,153.07 L549.38,153.21 L550.09,153.35 L550.80,153.49 L551.51,153.62 L552.23,153.75 L552.95,153.88 L553.67,154.01 L554.40,154.14 L555.13,154.27 L555.87,154.40 L556.61,154.52 L557.36,154.64 L558.10,154.77 L558.86,154.89 L559.62,155.01 L560.38,155.13 L561.15,155.25 L561.92,155.37 L562.70,155.49 L563.49,155.60 L564.27,155.72 L565.07,155.84 L565.87,155.96 L566.68,156.07 L567.49,156.19 L568.31,156.31 L569.14,156.43 L569.97,156.54 L570.81,156.66 L571.65,156.78 L572.51,156.90 L573.37,157.02 L574.24,157.14 L575.11,157.26 L576.00,157.38 L576.90,157.51 L577.82,157.63 L578.74,157.76 L579.68,157.89 L580.63,158.02 L581.59,158.15 L582.57,158.28 L583.56,158.42 L584.57,158.55 L585.60,158.69 L586.65,158.84 L587.71,158.98 L588.79,159.13 L589.89,159.28 L591.01,159.43 L592.16,159.59 L593.32,159.75 L594.51,159.91 L595.72,160.08 L596.95,160.24 L598.21,160.42 L599.49,160.60 L600.80,160.78 L602.13,160.96 L603.49,161.15 L604.88,161.34 L606.29,161.54 L607.74,161.74 L609.22,161.95 L610.72,162.16 L612.26,162.38 L613.83,162.60 L615.43,162.83 L617.06,163.06 L618.73,163.30 L620.43,163.54 L622.17,163.79 L623.94,164.04 L625.75,164.31 L627.59,164.57 L629.48,164.84 L631.40,165.12 L633.36,165.41 L635.36,165.70" stroke="#0000ff" stroke-width="1.4" fill="none"/>
<path d="M433.28,28.82 L435.28,33.95 L437.24,38.91 L439.16,43.70 L441.05,48.33 L442.89,52.79 L444.70,57.10 L446.47,61.24 L448.21,65.24 L449.91,69.08 L451.58,72.78 L453.21,76.34 L454.81,79.76 L456.38,83.04 L457.92,86.19 L459.42,89.20 L460.90,92.09 L462.35,94.86 L463.76,97.51 L465.15,100.04 L466.51,102.46 L467.84,104.77 L469.15,106.97 L470.43,109.07 L471.69,111.07 L472.92,112.97 L474.13,114.78 L475.32,116.50 L476.48,118.13 L477.63,119.68 L478.75,121.14 L479.85,122.54 L480.93,123.85 L481.99,125.10 L483.04,126.28 L484.07,127.39 L485.08,128.45 L486.07,129.45 L487.05,130.39 L488.01,131.29 L488.96,132.13 L489.90,132.93 L490.82,133.70 L491.74,134.42 L492.64,135.11 L493.53,135.77 L494.40,136.40 L495.27,137.01 L496.13,137.59 L496.99,138.16 L497.83,138.72 L498.67,139.26 L499.50,139.79 L500.33,140.32 L501.15,140.83 L501.96,141.33 L502.77,141.82 L503.57,142.30 L504.37,142.77 L505.15,143.23 L505.94,143.68 L506.72,144.12 L507.49,144.55 L508.26,144.98 L509.02,145.39 L509.78,145.80 L510.54,146.19 L511.28,146.58 L512.03,146.96 L512.77,147.33 L513.51,147.69 L514.24,148.05 L514.97,148.40 L515.69,148.74 L516.41,149.07 L517.13,149.39 L517.84,149.71 L518.55,150.02 L519.26,150.33 L519.97,150.62 L520.67,150.91 L521.37,151.20 L522.06,151.48 L522.76,151.75 L523.45,152.01 L524.14,152.27 L524.83,152.53 L525.51,152.78 L526.20,153.02 L526.88,153.26 L527.56,153.49 L528.24,153.72 L528.92,153.95 L529.60,154.17 L530.27,154.38 L530.95,154.59 L531.62,154.80 L532.30,155.00 L532.97,155.20 L533.65,155.40 L534.32,155.59 L534.99,155.78 L535.67,155.97 L536.34,156.15 L537.02,156.33 L537.69,156.50 L538.37,156.68 L539.04,156.84 L539.72,157.01 L540.40,157.17 L541.08,157.33 L541.76,157.49 L542.44,157.64 L543.13,157.79 L543.81,157.94 L544.50,158.08 L545.19,158.22 L545.88,158.36 L546.58,158.50 L547.27,158.63 L547.97,158.76 L548.67,158.88 L549.38,159.00 L550.09,159.12 L550.80,159.24 L551.51,159.35 L552.23,159.46 L552.95,159.57 L553.67,159.67 L554.40,159.77 L555.13,159.87 L555.87,159.97 L556.61,160.06 L557.36,160.15 L558.10,160.24 L558.86,160.32 L559.62,160.40 L560.38,160.48 L561.15,160.55 L561.92,160.62 L562.70,160.69 L563.49,160.76 L564.27,160.82 L565.07,160.88 L565.87,160.94 L566.68,161.00 L567.49,161.05 L568.31,161.10 L569.14,161.14 L569.97,161.19 L570.81,161.23 L571.65,161.27 L572.51,161.30 L573.37,161.34 L574.24,161.37 L575.11,161.40 L576.00,161.43 L576.90,161.46 L577.82,161.48 L578.74,161.51 L579.68,161.54 L580.63,161.56 L581.59,161.59 L582.57,161.62 L583.56,161.65 L584.57,161.68 L585.60,161.71 L586.65,161.74 L587.71,161.78 L588.79,161.81 L589.89,161.85 L591.01,161.90 L592.16,161.94 L593.32,161.99 L594.51,162.05 L595.72,162.11 L596.95,162.17 L598.21,162.23 L599.49,162.31 L600.80,162.38 L602.13,162.47 L603.49,162.55 L604.88,162.65 L606.29,162.75 L607.74,162.86 L609.22,162.97 L610.72,163.09 L612.26,163.22 L613.83,163.36 L615.43,163.50 L617.06,163.65 L618.73,163.81 L620.43,163.98 L622.17,164.16 L623.94,164.35 L625.75,164.55 L627.59,164.76 L629.48,164.98 L631.40,165.21 L633.36,165.45 L635.36,165.70" stroke="#008000" stroke-width="1.4" fill="none"/>
<path d="M429.78,150.97 L436.78,150.97 L433.28,156.92 Z" fill="#000"/>
<path d="M463.46,159.39 L470.46,159.39 L466.96,165.34 Z" fill="#000"/>
<path d="M497.14,158.44 L504.14,158.44 L500.64,164.39 Z" fill="#000"/>
<path d="M530.82,159.39 L537.82,159.39 L534.32,165.34 Z" fill="#000"/>
<path d="M564.50,162.41 L571.50,162.41 L568.00,168.36 Z" fill="#000"/>
<path d="M598.18,160.19 L605.18,160.19 L601.68,166.14 Z" fill="#000"/>
<path d="M631.86,163.20 L638.86,163.20 L635.36,169.15 Z" fill="#000"/>
<rect x="430.68" y="51.31" width="5.20" height="5.20" fill="#ff0000"/>
<rect x="464.36" y="121.65" width="5.20" height="5.20" fill="#ff0000"/>
<rect x="498.04" y="129.44" width="5.20" height="5.20" fill="#ff0000"/>
<rect x="531.72" y="138.96" width="5.20" height="5.20" fill="#ff0000"/>
<rect x="565.40" y="147.06" width="5.20" height="5.20" fill="#ff0000"/>
<rect x="599.08" y="152.78" width="5.20" height="5.20" fill="#ff0000"/>
<rect x="632.76" y="159.61" width="5.20" height="5.20" fill="#ff0000"/>
<circle cx="433.28" cy="38.03" r="2.93" fill="#0000ff"/>
<circle cx="466.96" cy="111.23" r="2.93" fill="#0000ff"/>
<circle cx="500.64" cy="136.48" r="2.93" fill="#0000ff"/>
<circle cx="534.32" cy="151.09" r="2.93" fill="#0000ff"/>
<circle cx="568.00" cy="156.49" r="2.93" fill="#0000ff"/>
<circle cx="601.68" cy="160.78" r="2.93" fill="#0000ff"/>
<circle cx="635.36" cy="165.70" r="2.93" fill="#0000ff"/>
<path d="M429.78,31.79 L436.78,31.79 L433.28,25.84 Z" fill="#008000"/>
<path d="M463.46,118.81 L470.46,118.81 L466.96,112.86 Z" fill="#008000"/>
<path d="M497.14,146.29 L504.14,146.29 L500.64,140.34 Z" fill="#008000"/>
<path d="M530.82,159.94 L537.82,159.94 L534.32,153.99 Z" fill="#008000"/>
<path d="M564.50,165.34 L571.50,165.34 L568.00,159.39 Z" fill="#008000"/>
<path d="M598.18,164.39 L605.18,164.39 L601.68,158.44 Z" fill="#008000"/>
<path d="M631.86,168.68 L638.86,168.68 L635.36,162.73 Z" fill="#008000"/>
<line x1="400.0" y1="6.56" x2="400.0" y2="217.50" stroke="#111" stroke-width="1"/>
<line x1="400.0" y1="213.5" x2="652.70" y2="213.5" stroke="#222" stroke-width="1.1"/>
<g stroke="#111" stroke-width="1.1" fill="none">
<line x1="395.50" y1="213.50" x2="400.00" y2="213.50"/>
<line x1="397.70" y1="197.62" x2="400.00" y2="197.62"/>
<line x1="395.50" y1="181.74" x2="400.00" y2="181.74"/>
<line x1="397.70" y1="165.86" x2="400.00" y2="165.86"/>
<line x1="395.50" y1="149.98" x2="400.00" y2="149.98"/>
<line x1="397.70" y1="134.10" x2="400.00" y2="134.10"/>
<line x1="395.50" y1="118.22" x2="400.00" y2="118.22"/>
<line x1="397.70" y1="102.34" x2="400.00" y2="102.34"/>
<line x1="395.50" y1="86.46" x2="400.00" y2="86.46"/>
<line x1="397.70" y1="70.58" x2="400.00" y2="70.58"/>
<line x1="395.50" y1="54.70" x2="400.00" y2="54.70"/>
<line x1="397.70" y1="38.82" x2="400.00" y2="38.82"/>
<line x1="395.50" y1="22.94" x2="400.00" y2="22.94"/>
<line x1="397.70" y1="7.06" x2="400.00" y2="7.06"/>
<line x1="399.60" y1="213.50" x2="399.60" y2="217.50"/>
<line x1="416.44" y1="213.50" x2="416.44" y2="215.80"/>
<line x1="433.28" y1="213.50" x2="433.28" y2="217.50"/>
<line x1="450.12" y1="213.50" x2="450.12" y2="215.80"/>
<line x1="466.96" y1="213.50" x2="466.96" y2="217.50"/>
<line x1="483.80" y1="213.50" x2="483.80" y2="215.80"/>
<line x1="500.64" y1="213.50" x2="500.64" y2="217.50"/>
<line x1="517.48" y1="213.50" x2="517.48" y2="215.80"/>
<line x1="534.32" y1="213.50" x2="534.32" y2="217.50"/>
<line x1="551.16" y1="213.50" x2="551.16" y2="215.80"/>
<line x1="568.00" y1="213.50" x2="568.00" y2="217.50"/>
<line x1="584.84" y1="213.50" x2="584.84" y2="215.80"/>
<line x1="601.68" y1="213.50" x2="601.68" y2="217.50"/>
<line x1="618.52" y1="213.50" x2="618.52" y2="215.80"/>
<line x1="635.36" y1="213.50" x2="635.36" y2="217.50"/>
<line x1="652.20" y1="213.50" x2="652.20" y2="215.80"/>
</g>
<g font-family='"Liberation Sans", sans-serif'>
<text transform="translate(392.80,216.30) scale(1,1.06)" text-anchor="end" font-weight="bold" font-size="10.9" fill="#000" >0</text>
<text transform="translate(392.80,184.54) scale(1,1.06)" text-anchor="end" font-weight="bold" font-size="10.9" fill="#000" >2</text>
<text transform="translate(392.80,152.78) scale(1,1.06)" text-anchor="end" font-weight="bold" font-size="10.9" fill="#000" >4</text>
<text transform="translate(392.80,121.02) scale(1,1.06)" text-anchor="end" font-weight="bold" font-size="10.9" fill="#000" >6</text>
<text transform="translate(392.80,89.26) scale(1,1.06)" text-anchor="end" font-weight="bold" font-size="10.9" fill="#000" >8</text>
<text transform="translate(392.80,57.50) scale(1,1.06)" text-anchor="end" font-weight="bold" font-size="10.9" fill="#000" >10</text>
<text transform="translate(392.80,25.74) scale(1,1.06)" text-anchor="end" font-weight="bold" font-size="10.9" fill="#000" >12</text>
<text transform="translate(399.60,229.70) scale(1,1.06)" text-anchor="middle" font-weight="bold" font-size="10.8" fill="#000" >0</text>
<text transform="translate(433.28,229.70) scale(1,1.06)" text-anchor="middle" font-weight="bold" font-size="10.8" fill="#000" >20</text>
<text transform="translate(466.96,229.70) scale(1,1.06)" text-anchor="middle" font-weight="bold" font-size="10.8" fill="#000" >40</text>
<text transform="translate(500.64,229.70) scale(1,1.06)" text-anchor="middle" font-weight="bold" font-size="10.8" fill="#000" >60</text>
<text transform="translate(534.32,229.70) scale(1,1.06)" text-anchor="middle" font-weight="bold" font-size="10.8" fill="#000" >80</text>
<text transform="translate(568.00,229.70) scale(1,1.06)" text-anchor="middle" font-weight="bold" font-size="10.8" fill="#000" >100</text>
<text transform="translate(601.68,229.70) scale(1,1.06)" text-anchor="middle" font-weight="bold" font-size="10.8" fill="#000" >120</text>
<text transform="translate(635.36,229.70) scale(1,1.06)" text-anchor="middle" font-weight="bold" font-size="10.8" fill="#000" >140</text>
<text transform="translate(526.30,250.60) scale(1,1.03)" text-anchor="middle" font-weight="bold" font-size="12.4" fill="#000" >Time (min)</text>
<text transform="translate(372.2,119.4) rotate(-90)" text-anchor="middle" font-weight="bold" font-size="12">Reaction rate (mg*L<tspan font-size="7.5" dy="-5.8">-1</tspan><tspan dy="5.8">*min</tspan><tspan font-size="7.5" dy="-5.8">-1</tspan><tspan dy="5.8">)</tspan></text>
<text transform="translate(412.10,13.60) scale(1,1.09)" font-weight="bold" font-size="14.5" fill="#000" >(B)</text>
</g>
<g font-family='"Liberation Sans", sans-serif'>
<text transform="translate(539.10,20.70) scale(1,1.0)" font-weight="bold" font-size="12.3" fill="#000" >Amplitude</text>
<text transform="translate(610.70,20.80) scale(1,1.0)" font-weight="bold" font-size="12.3" fill="#000" >US power</text>
<text transform="translate(581.00,39.60) scale(1,1.02)" text-anchor="middle" font-weight="bold" font-size="12.3" fill="#000" >(%)</text>
<text transform="translate(644.60,39.60) scale(1,1.02)" text-anchor="middle" font-weight="bold" font-size="12.3" fill="#000" >(mW)</text>
<line x1="540.3" y1="52.3" x2="570" y2="52.3" stroke="#000" stroke-width="1.4"/>
<path d="M552.00,49.49 L558.60,49.49 L555.30,55.10 Z" fill="#000"/>
<text transform="translate(587.50,56.90) scale(1,1.05)" text-anchor="end" font-weight="bold" font-size="12.5" fill="#000" >0</text>
<text transform="translate(651.50,56.90) scale(1,1.05)" text-anchor="middle" font-weight="bold" font-size="12.5" fill="#000" >0</text>
<line x1="540.3" y1="68.2" x2="570" y2="68.2" stroke="#ff0000" stroke-width="1.4"/>
<rect x="552.90" y="65.80" width="4.80" height="4.80" fill="#ff0000"/>
<text transform="translate(587.50,72.80) scale(1,1.05)" text-anchor="end" font-weight="bold" font-size="12.5" fill="#000" >20</text>
<text transform="translate(651.50,72.80) scale(1,1.05)" text-anchor="middle" font-weight="bold" font-size="12.5" fill="#000" >32</text>
<line x1="540.3" y1="84.4" x2="570" y2="84.4" stroke="#0000ff" stroke-width="1.4"/>
<circle cx="555.30" cy="84.40" r="2.70" fill="#0000ff"/>
<text transform="translate(587.50,89.00) scale(1,1.05)" text-anchor="end" font-weight="bold" font-size="12.5" fill="#000" >25</text>
<text transform="translate(651.50,89.00) scale(1,1.05)" text-anchor="middle" font-weight="bold" font-size="12.5" fill="#000" >44</text>
<line x1="540.3" y1="100.4" x2="570" y2="100.4" stroke="#008000" stroke-width="1.4"/>
<path d="M552.00,103.21 L558.60,103.21 L555.30,97.59 Z" fill="#008000"/>
<text transform="translate(587.50,105.00) scale(1,1.05)" text-anchor="end" font-weight="bold" font-size="12.5" fill="#000" >30</text>
<text transform="translate(651.50,105.00) scale(1,1.05)" text-anchor="middle" font-weight="bold" font-size="12.5" fill="#000" >68</text>
</g>
</svg>
</body></html>
